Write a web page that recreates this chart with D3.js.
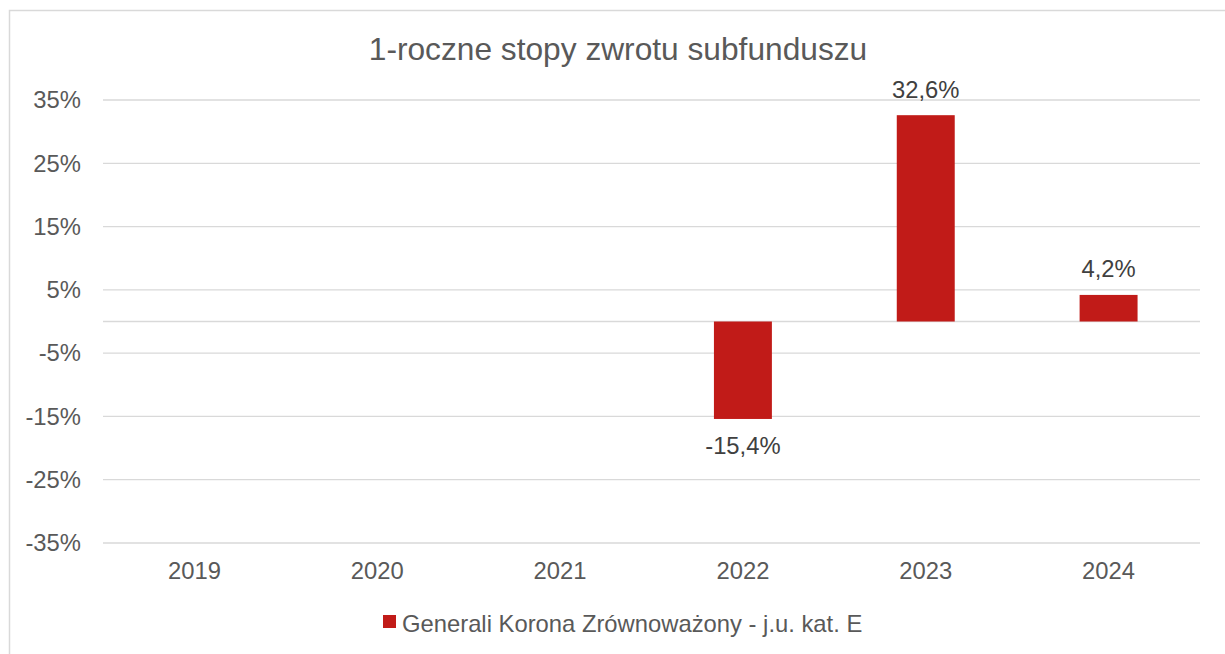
<!DOCTYPE html>
<html>
<head>
<meta charset="utf-8">
<style>
  body {
    background-color: white;
    margin: 0px;
  }
  text {
    font-family: "Liberation Sans", Arial, sans-serif;
  }
</style>
<script src="https://d3js.org/d3.v7.min.js"></script>
</head>
<body>
  <svg></svg>
</body>
<script>
const years = ["2019", "2020", "2021", "2022", "2023", "2024"];
const returns = [null, null, null, -15.4, 32.6, 4.2];
const yTicks = [-35, -25, -15, -5, 5, 15, 25, 35];
const title = "1-roczne stopy zwrotu subfunduszu";
const seriesName = "Generali Korona Zrównoważony - j.u. kat. E";

const width = 1225, height = 654;
const plot = {left: 103, right: 1200, top: 100, bottom: 543};
const barColor = "#c11b18";
const labelSize = "23.8px";

const svg = d3.select("svg")
    .attr("width", width)
    .attr("height", height);

// chart frame (runs off the right and bottom edge)
svg.append("rect")
    .attr("x", 9.5)
    .attr("y", 10.5)
    .attr("width", 1240)
    .attr("height", 700)
    .style("fill", "white")
    .style("stroke", "#d9d9d9")
    .style("stroke-width", 1.5);

const x = d3.scaleBand()
    .domain(years)
    .range([plot.left, plot.right])
    .paddingInner(0.683)
    .paddingOuter(0.683 / 2);

const y = d3.scaleLinear()
    .domain([-35, 35])
    .range([plot.bottom, plot.top]);

// gridlines + zero line
svg.append("g")
  .selectAll("line")
    .data(yTicks.concat([0]))
  .enter().append("line")
    .attr("x1", plot.left)
    .attr("x2", plot.right)
    .attr("y1", function(d) {return y(d)})
    .attr("y2", function(d) {return y(d)})
    .style("stroke", "#d9d9d9")
    .style("stroke-width", 1.3);

// y axis labels
svg.append("g")
  .selectAll("text")
    .data(yTicks)
  .enter().append("text")
    .attr("x", 81)
    .attr("y", function(d) {return y(d) + 8.3})
    .attr("text-anchor", "end")
    .style("font-size", labelSize)
    .style("fill", "#595959")
    .text(function(d) {return d + "%"});

// x axis labels
svg.append("g")
  .selectAll("text")
    .data(years)
  .enter().append("text")
    .attr("x", function(d) {return x(d) + x.bandwidth() / 2})
    .attr("y", plot.bottom + 36.3)
    .attr("text-anchor", "middle")
    .style("font-size", labelSize)
    .style("fill", "#595959")
    .text(function(d) {return d});

const barData = years.map(function(d, i) {return {year: d, value: returns[i]}})
    .filter(function(d) {return d.value !== null});

svg.append("g")
  .selectAll("rect")
    .data(barData)
  .enter().append("rect")
    .attr("x", function(d) {return x(d.year)})
    .attr("width", x.bandwidth())
    .attr("y", function(d) {return y(Math.max(0, d.value))})
    .attr("height", function(d) {return Math.abs(y(d.value) - y(0))})
    .style("fill", barColor);

svg.append("g")
  .selectAll("text")
    .data(barData)
  .enter().append("text")
    .attr("x", function(d) {return x(d.year) + x.bandwidth() / 2})
    .attr("y", function(d) {return d.value >= 0 ? y(d.value) - 17.5 : y(d.value) + 35})
    .attr("text-anchor", "middle")
    .style("font-size", labelSize)
    .style("fill", "#404040")
    .text(function(d) {return String(d.value).replace(".", ",") + "%"});

// title
svg.append("text")
    .attr("x", 618)
    .attr("y", 60)
    .attr("text-anchor", "middle")
    .style("font-size", "31.7px")
    .style("fill", "#595959")
    .text(title);

// legend
const legend = svg.append("g");
legend.append("rect")
    .attr("x", 383)
    .attr("y", 615)
    .attr("width", 13)
    .attr("height", 13)
    .style("fill", barColor);
legend.append("text")
    .attr("x", 402)
    .attr("y", 632)
    .style("font-size", labelSize)
    .style("fill", "#595959")
    .text(seriesName);
</script>
</html>
